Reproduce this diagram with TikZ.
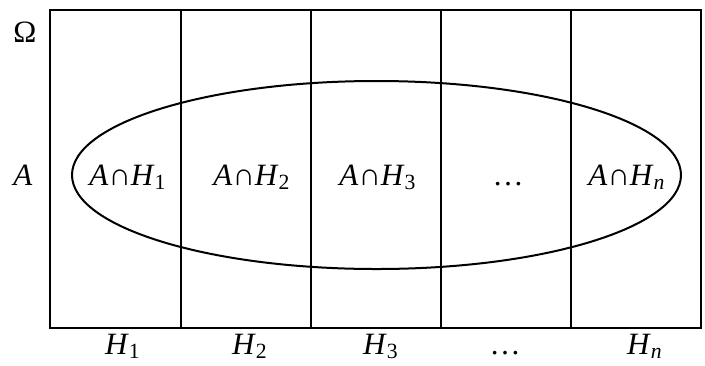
\documentclass[tikz,border=0pt]{standalone}
\usepackage{fontspec}
\setmainfont{Liberation Serif}
\usepackage{tikz}
\usetikzlibrary{positioning}
\tikzset{
    rotulo/.style={
        inner sep=0pt,
        anchor=base,
        font=\fontsize{15.5}{18}\selectfont
    },
    divisao/.style={line width=1pt},
    evento/.style={line width=1pt}
}
\newcommand{\inter}[1]{\textit{A}∩\textit{H}\textsubscript{#1}}

\begin{document}
\begin{tikzpicture}[x=0.5pt, y=-0.5pt]
        \useasboundingbox (0,0) rectangle (705,365);
        % espaco amostral e particao
        \draw[divisao] (50,10) rectangle (701,328);
        \foreach \xc in {181,311,441,571}
            \draw[divisao] (\xc,10) -- (\xc,328);
        % evento A
        \draw[evento] (376.5,175) ellipse [x radius=152.25pt, y radius=47pt];
        % rotulos laterais
        \node[rotulo] (omega) at (25,42) {Ω};
        \node[rotulo] (evA) at (23,185) {\textit{A}};
        % intersecoes
        \node[rotulo] (ah1) at (128,185) {\inter{1}};
        \node[rotulo] (ah2) at (252,185) {\inter{2}};
        \node[rotulo] (ah3) at (378,185) {\inter{3}};
        \node[rotulo] (ahd) at (508,185) {…};
        \node[rotulo] (ahn) at (627,185) {\inter{\textit{n}}};
        % particao
        \node[rotulo] (h1) at (123,354) {\textit{H}\textsubscript{1}};
        \node[rotulo] (h2) at (250,354) {\textit{H}\textsubscript{2}};
        \node[rotulo] (h3) at (381,354) {\textit{H}\textsubscript{3}};
        \node[rotulo] (hd) at (505,354) {…};
        \node[rotulo] (hn) at (645,354) {\textit{H}\textsubscript{\textit{n}}};
    \end{tikzpicture}
\end{document}
